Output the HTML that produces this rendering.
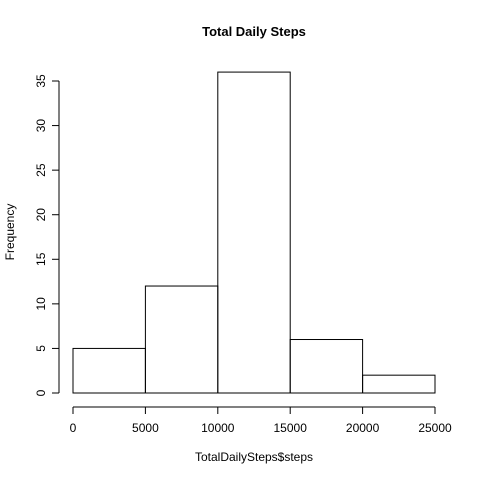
<!DOCTYPE html>
<html><head><meta charset="utf-8"><style>
html,body{margin:0;padding:0;background:#fff;}
svg text{font-family:"Liberation Sans",Arial,sans-serif;font-size:12px;fill:#000;}
</style></head><body>
<svg id="chart" width="480" height="480" xmlns="http://www.w3.org/2000/svg">
<text x="254" y="36" text-anchor="middle" style="font-weight:bold;font-size:13px">Total Daily Steps</text>
<text x="254" y="461" text-anchor="middle">TotalDailySteps$steps</text>
<text transform="translate(14,232) rotate(-90)" text-anchor="middle">Frequency</text>
<g id="bars"></g>
<g id="xaxis"></g>
<g id="yaxis"></g>
</svg>
<script>
const binEdges = [0, 5000, 10000, 15000, 20000, 25000];
const counts = [5, 12, 36, 6, 2];
const xTicks = [0, 5000, 10000, 15000, 20000, 25000];
const yTicks = [0, 5, 10, 15, 20, 25, 30, 35];

const NS = "http://www.w3.org/2000/svg";
const xs = v => 73 + (v - 0) / 25000 * (435 - 73);
const ys = v => 393 - v / 35 * (393 - 81);
function mk(tag, attrs, parent) {
  const e = document.createElementNS(NS, tag);
  for (const k in attrs) e.setAttribute(k, attrs[k]);
  parent.appendChild(e);
  return e;
}
const bars = document.getElementById('bars');
counts.forEach((c, i) => {
  const x0 = xs(binEdges[i]), x1 = xs(binEdges[i + 1]);
  const r = mk('rect', {x: x0, y: ys(c), width: x1 - x0, height: ys(0) - ys(c), fill: 'none', stroke: '#000', 'stroke-width': 1}, bars);
  
  
});
const xa = document.getElementById('xaxis');
mk('line', {x1: xs(xTicks[0]), x2: xs(xTicks[xTicks.length - 1]), y1: 407, y2: 407, stroke: '#000'}, xa);
xTicks.forEach(t => {
  mk('line', {x1: xs(t), x2: xs(t), y1: 407, y2: 414, stroke: '#000'}, xa);
  const tx = mk('text', {x: xs(t), y: 432, 'text-anchor': 'middle'}, xa);
  tx.textContent = t;
  
  
});
const ya = document.getElementById('yaxis');
mk('line', {x1: 59, x2: 59, y1: ys(yTicks[0]), y2: ys(yTicks[yTicks.length - 1]), stroke: '#000'}, ya);
yTicks.forEach(t => {
  mk('line', {x1: 52, x2: 59, y1: ys(t), y2: ys(t), stroke: '#000'}, ya);
  const tx = mk('text', {transform: 'translate(45,' + ys(t) + ') rotate(-90)', 'text-anchor': 'middle'}, ya);
  tx.textContent = t;
  
  
});
</script>
</body></html>
